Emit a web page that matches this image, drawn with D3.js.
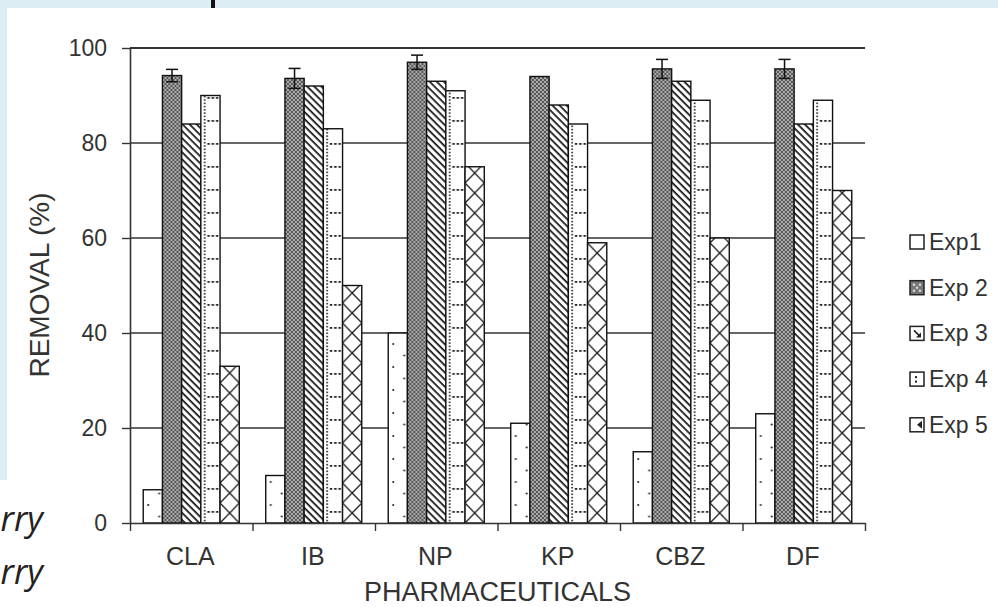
<!DOCTYPE html>
<html>
<head>
<meta charset="utf-8">
<script src="https://cdn.jsdelivr.net/npm/d3@7"></script>
<style>
  body { margin: 0; overflow: hidden; background: #dcedf4; }
  svg { display: block; font-family: Arial, "Liberation Sans", sans-serif; }
</style>
</head>
<body>
<svg id="chart" width="998" height="607"></svg>
<script>
const categories = ["CLA", "IB", "NP", "KP", "CBZ", "DF"]
const series = ["Exp1", "Exp 2", "Exp 3", "Exp 4", "Exp 5"]
const exp1 = [7, 10, 40, 21, 15, 23]
const exp2 = [94.2, 93.6, 97, 94, 95.6, 95.6]
const exp3 = [84, 92, 93, 88, 93, 84]
const exp4 = [90, 83, 91, 84, 89, 89]
const exp5 = [33, 50, 75, 59, 60, 70]
const exp2Err = [1.3, 2.1, 1.5, 0, 2, 2]
const yTicks = [0, 20, 40, 60, 80, 100]

const values = [exp1, exp2, exp3, exp4, exp5]

const svg = d3.select("#chart")
const plotLeft = 130, plotRight = 865, plotTop = 48, plotBottom = 523

// page background: white panel on light blue
svg.append("rect").attr("x", 0).attr("y", 0).attr("width", 998).attr("height", 607).attr("fill", "#dcedf4")
svg.append("rect").attr("x", 7).attr("y", 8).attr("width", 991).attr("height", 599).attr("fill", "#fff")
svg.append("rect").attr("x", 0).attr("y", 480).attr("width", 7).attr("height", 127).attr("fill", "#fff")
svg.append("rect").attr("x", 211).attr("y", 0).attr("width", 4).attr("height", 8).attr("fill", "#111")

// cut off italic text on the left
svg.append("text").attr("x", 43).attr("y", 531).attr("text-anchor", "end")
  .attr("font-family", "'Open Sans', sans-serif").attr("font-style", "italic")
  .attr("font-size", 34).attr("fill", "#222").text("rry")
svg.append("text").attr("x", 43).attr("y", 584).attr("text-anchor", "end")
  .attr("font-family", "'Open Sans', sans-serif").attr("font-style", "italic")
  .attr("font-size", 34).attr("fill", "#222").text("rry")

const x0 = d3.scaleBand().domain(categories).range([plotLeft, plotRight])
  .paddingInner(0.216).paddingOuter(0.108)
const x1 = d3.scaleBand().domain(series).range([0, x0.bandwidth()])
const y = d3.scaleLinear().domain([0, 100]).range([plotBottom, plotTop])

// gridlines
svg.append("g").selectAll("line").data(yTicks.filter(t => t > 0)).enter().append("line")
  .attr("x1", plotLeft).attr("x2", plotRight)
  .attr("y1", d => y(d)).attr("y2", d => y(d))
  .attr("stroke", "#333").attr("stroke-width", d => d === 100 ? 2 : 1.3)

// patterns, one per bar so they line up with the bar edges
const defs = svg.append("defs")
const bw = x1.bandwidth()

const makePattern = (id, si, bx) => {
  if (si === 0) {
    const p = defs.append("pattern").attr("id", id).attr("patternUnits", "userSpaceOnUse")
      .attr("x", bx).attr("y", plotBottom).attr("width", bw).attr("height", 23)
    p.append("rect").attr("width", bw).attr("height", 23).attr("fill", "#fff")
    p.append("circle").attr("cx", 5).attr("cy", 5).attr("r", 1.1).attr("fill", "#333")
    p.append("circle").attr("cx", 16).attr("cy", 16.5).attr("r", 1.1).attr("fill", "#333")
  } else if (si === 1) {
    const p = defs.append("pattern").attr("id", id).attr("patternUnits", "userSpaceOnUse")
      .attr("x", bx).attr("y", plotBottom).attr("width", 4).attr("height", 4)
    p.append("rect").attr("width", 4).attr("height", 4).attr("fill", "#555")
    p.append("circle").attr("cx", 1).attr("cy", 1).attr("r", 0.95).attr("fill", "#d4d4d4")
    p.append("circle").attr("cx", 3).attr("cy", 3).attr("r", 0.95).attr("fill", "#d4d4d4")
  } else if (si === 2) {
    const p = defs.append("pattern").attr("id", id).attr("patternUnits", "userSpaceOnUse")
      .attr("x", bx).attr("y", plotBottom).attr("width", 6).attr("height", 5)
      .attr("patternTransform", "rotate(45)")
    p.append("rect").attr("width", 6).attr("height", 5).attr("fill", "#fff")
    p.append("rect").attr("y", 0).attr("width", 6).attr("height", 1.7).attr("fill", "#111")
  } else if (si === 3) {
    const p = defs.append("pattern").attr("id", id).attr("patternUnits", "userSpaceOnUse")
      .attr("x", bx).attr("y", plotBottom).attr("width", bw).attr("height", 23)
    p.append("rect").attr("width", bw).attr("height", 23).attr("fill", "#fff")
    d3.range(0, 23, 3.3).forEach(yy => {
      p.append("rect").attr("x", 3).attr("y", yy).attr("width", 1.6).attr("height", 1.6).attr("fill", "#222")
    })
    d3.range(6.5, bw - 2, 4.3).forEach(xx => {
      p.append("rect").attr("x", xx).attr("y", 11).attr("width", 2.4).attr("height", 1.8).attr("fill", "#222")
    })
  } else {
    const h = 20
    const p = defs.append("pattern").attr("id", id).attr("patternUnits", "userSpaceOnUse")
      .attr("x", bx).attr("y", plotBottom).attr("width", bw).attr("height", h)
    p.append("rect").attr("width", bw).attr("height", h).attr("fill", "#fff")
    p.append("line").attr("x1", 0).attr("y1", 0).attr("x2", bw).attr("y2", h).attr("stroke", "#222").attr("stroke-width", 1.3)
    p.append("line").attr("x1", bw).attr("y1", 0).attr("x2", 0).attr("y2", h).attr("stroke", "#222").attr("stroke-width", 1.3)
  }
}

const barData = []
categories.forEach((c, ci) => {
  series.forEach((s, si) => {
    const bx = x0(c) + x1(s)
    const id = `pat-${ci}-${si}`
    makePattern(id, si, bx)
    barData.push({ c, s, si, v: values[si][ci], id })
  })
})

svg.append("g").selectAll("rect").data(barData).enter().append("rect")
  .attr("x", d => x0(d.c) + x1(d.s))
  .attr("y", d => y(d.v))
  .attr("width", bw)
  .attr("height", d => plotBottom - y(d.v))
  .attr("fill", d => `url(#${d.id})`)
  .attr("stroke", "#111").attr("stroke-width", 1.4)

// error bars on Exp 2
const errData = categories.map((c, i) => ({ c, v: exp2[i], e: exp2Err[i] })).filter(d => d.e > 0)
const eg = svg.append("g").attr("stroke", "#111").attr("stroke-width", 1.5)
errData.forEach(d => {
  const cx = x0(d.c) + x1(series[1]) + bw / 2
  eg.append("line").attr("x1", cx).attr("x2", cx).attr("y1", y(d.v + d.e)).attr("y2", y(d.v - d.e))
  eg.append("line").attr("x1", cx - 6).attr("x2", cx + 6).attr("y1", y(d.v + d.e)).attr("y2", y(d.v + d.e))
  eg.append("line").attr("x1", cx - 6).attr("x2", cx + 6).attr("y1", y(d.v - d.e)).attr("y2", y(d.v - d.e))
})

// y axis
const yAxis = svg.append("g").attr("transform", `translate(${plotLeft},0)`)
  .call(d3.axisLeft(y).tickValues(yTicks).tickSize(8).tickSizeOuter(0).tickPadding(15))
yAxis.select(".domain").attr("stroke", "#333").attr("stroke-width", 1.6)
yAxis.selectAll(".tick line").attr("stroke", "#333").attr("stroke-width", 1.4)
yAxis.selectAll(".tick text").attr("font-size", 23).attr("fill", "#333")
  .attr("font-family", "Arial, 'Liberation Sans', sans-serif")

// x axis: baseline with ticks at category boundaries
const xb = d3.scaleLinear().domain([0, categories.length]).range([plotLeft, plotRight])
const xAxis = svg.append("g").attr("transform", `translate(0,${plotBottom})`)
  .call(d3.axisBottom(xb).ticks(categories.length).tickSize(8).tickSizeOuter(0).tickFormat(""))
xAxis.select(".domain").attr("stroke", "#333").attr("stroke-width", 1.6)
xAxis.selectAll(".tick line").attr("stroke", "#333").attr("stroke-width", 1.4)

svg.append("g").selectAll("text").data(categories).enter().append("text")
  .attr("x", d => x0(d) + x0.bandwidth() / 2 - 1)
  .attr("y", 565)
  .attr("text-anchor", "middle")
  .attr("font-size", 25).attr("fill", "#333")
  .text(d => d)

svg.append("text").attr("x", (plotLeft + plotRight) / 2).attr("y", 601)
  .attr("text-anchor", "middle").attr("font-size", 27).attr("fill", "#333")
  .text("PHARMACEUTICALS")

svg.append("text").attr("transform", `translate(49,285) rotate(-90)`)
  .attr("text-anchor", "middle").attr("font-size", 28).attr("fill", "#333")
  .text("REMOVAL (%)")

// legend
const lg = svg.append("g")
series.forEach((s, i) => {
  const ly = 242 + i * 45.7
  const g = lg.append("g").attr("transform", `translate(910,${ly - 7})`)
  g.append("rect").attr("width", 14).attr("height", 14)
    .attr("fill", i === 1 ? "#777" : "#fff").attr("stroke", "#222").attr("stroke-width", 1.5)
  if (i === 1) {
    [[4, 4], [10, 4], [7, 7], [4, 10], [10, 10]].forEach(([a, b]) =>
      g.append("circle").attr("cx", a).attr("cy", b).attr("r", 1.2).attr("fill", "#ddd"))
  } else if (i === 2) {
    g.append("line").attr("x1", 4).attr("y1", 4).attr("x2", 10).attr("y2", 10).attr("stroke", "#222").attr("stroke-width", 1.6)
    g.append("path").attr("d", "M6,11 L11,11 L11,6 Z").attr("fill", "#222")
  } else if (i === 3) {
    g.append("rect").attr("x", 5).attr("y", 4).attr("width", 2).attr("height", 2).attr("fill", "#222")
    g.append("rect").attr("x", 5).attr("y", 8.5).attr("width", 2).attr("height", 2).attr("fill", "#222")
  } else if (i === 4) {
    g.append("path").attr("d", "M12,3 L7,7 L12,11 Z").attr("fill", "#222")
  }
  lg.append("text").attr("x", 929).attr("y", ly + 8)
    .attr("font-size", 23).attr("fill", "#333").text(s)
})
</script>
</body>
</html>
